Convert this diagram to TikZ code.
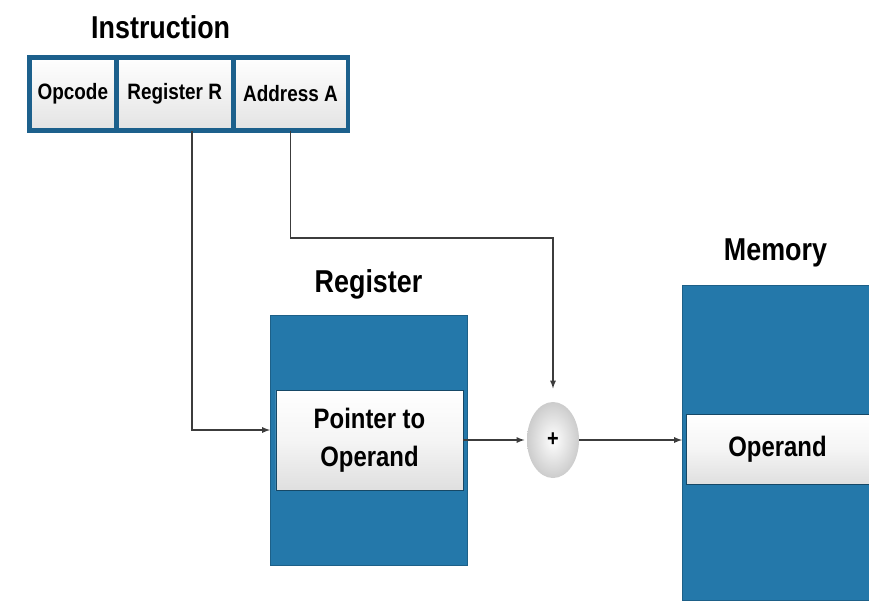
\documentclass[tikz,border=0pt]{standalone}
\usepackage{fontspec}
\setmainfont[FakeStretch=0.85]{Liberation Sans}
\usetikzlibrary{shapes.geometric,arrows,positioning,calc}
\definecolor{memblue}{RGB}{36,120,170}
\definecolor{instblue}{RGB}{28,96,140}
\definecolor{linegray}{RGB}{60,60,60}

\begin{document}
\begin{tikzpicture}[x=0.03cm, y=-0.03cm,
    cell/.style={rectangle, draw=instblue, line width=4pt, top color=white, bottom color=gray!22, outer sep=0pt, inner sep=0pt, minimum height=2.19cm, font=\bfseries\fontsize{19}{22}\selectfont},
    bigbox/.style={rectangle, fill=memblue, draw=memblue!80!black, line width=0.6pt, outer sep=0pt, inner sep=0pt},
    slot/.style={rectangle, top color=white, bottom color=gray!25, middle color=gray!8, draw=memblue!60!black, line width=0.6pt, align=center, inner sep=0pt, font=\bfseries\fontsize{24}{32}\selectfont},
    title/.style={font=\bfseries\fontsize{27}{30}\selectfont},
    wire/.style={draw=linegray, line width=1.3pt, -latex}]
    \useasboundingbox (0,0) rectangle (869,607);

    % instruction word
    \node[cell, minimum width=2.6cm, anchor=west] (opcode) at (29.5,94) {Opcode};
    \node[cell, minimum width=3.51cm, right=0pt of opcode] (regr) {Register R};
    \node[cell, minimum width=3.44cm, right=0pt of regr] (addra) {Address A};
    \node[title, above=12pt of regr, xshift=-0.42cm] (insttitle) {Instruction};

    % register
    \node[bigbox, minimum width=5.91cm, minimum height=7.5cm] (regbox) at (368.5,440) {};
    \node[slot, minimum width=5.61cm, minimum height=3cm] (pointer) at (369.5,440) {Pointer to\\Operand};
    \node[title, above=10pt of regbox] (regtitle) {Register};

    % adder
    \node[ellipse, shading=radial, inner color=white, outer color=gray!40, minimum width=1.56cm, minimum height=2.28cm, inner sep=0pt] (plus) at (553,440) {\bfseries\fontsize{20}{20}\selectfont +};

    % memory
    \node[bigbox, minimum width=5.61cm, minimum height=9.45cm] (membox) at (775.5,442.5) {};
    \node[slot, minimum width=5.49cm, minimum height=2.1cm] (operand) at (777.5,449) {Operand};
    \node[title, above=12pt of membox] (memtitle) {Memory};

    \coordinate (bend) at (553,238);

    \draw[wire] ([xshift=0.525cm]regr.south) |- ([yshift=0.3cm]regbox.west);
    \draw[wire, shorten >=0.4cm] (addra.south) |- (bend) -- (plus.north);
    \draw[wire, shorten >=2pt] (pointer.east) -- (plus.west);
    \draw[wire] (plus.east) -- (plus.east -| membox.west);
\end{tikzpicture}
\end{document}
